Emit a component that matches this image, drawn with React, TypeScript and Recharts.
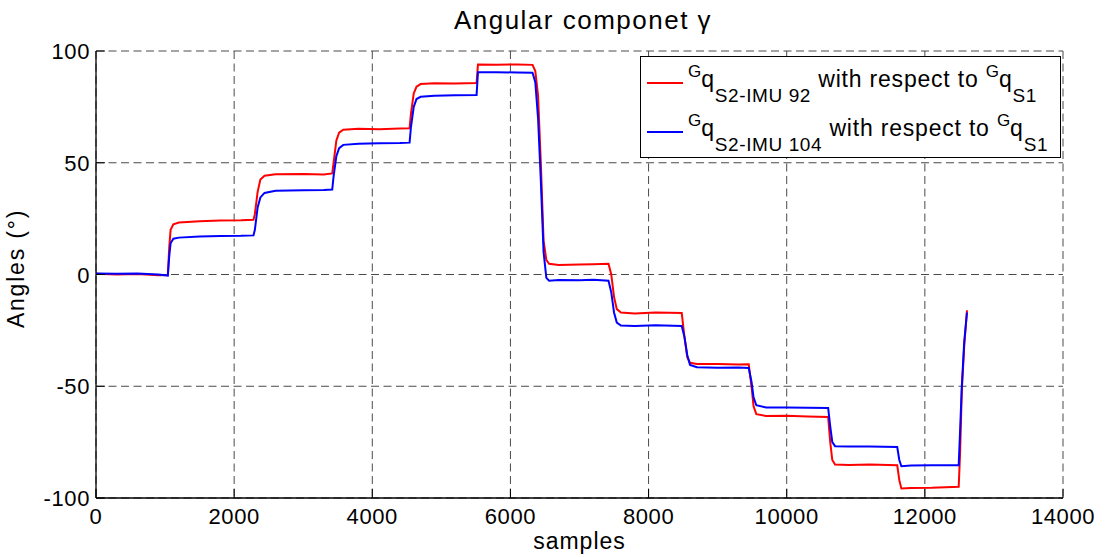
import { LineChart, Line, XAxis, YAxis, CartesianGrid, Legend } from 'recharts'

// sample index along the recording
const samples = [
  0, 300, 600, 900, 1040,
  1060, 1080, 1120, 1200, 1500, 1800, 2100, 2280,
  2300, 2340, 2380, 2440, 2600, 3000, 3300, 3420,
  3440, 3480, 3520, 3580, 3800, 4100, 4400, 4540,
  4560, 4600, 4640, 4700, 4900, 5200, 5510,
  5530, 5800, 6100, 6320,
  6360, 6400, 6440, 6480, 6520, 6560, 6700, 7000, 7200, 7420,
  7460, 7500, 7540, 7600, 7800, 8100, 8480,
  8520, 8560, 8600, 8700, 9000, 9300, 9450,
  9490, 9520, 9560, 9700, 10000, 10300, 10600,
  10630, 10660, 10700, 10900, 11200, 11600,
  11630, 11660, 11800, 12100, 12490,
  12510, 12535, 12570, 12610,
]

// gamma angle, IMU 92 (deg)
const imu92 = [
  0.3, 0, 0.2, -0.3, -0.2,
  12, 20, 22.5, 23.3, 23.8, 24.2, 24.3, 24.5,
  27, 37, 42.5, 44.2, 44.8, 45, 44.7, 45.2,
  50, 60, 63.5, 64.8, 65.2, 65, 65.3, 65.4,
  72, 81, 84, 85.2, 85.6, 85.5, 85.7,
  94, 93.9, 94, 93.8,
  91, 80, 50, 15, 6.5, 4.8, 4.3, 4.5, 4.6, 4.8,
  0, -10, -15.5, -17, -17.4, -17, -17.2,
  -28, -37, -39.5, -40, -40, -40.3, -40.2,
  -50, -59, -62.5, -63.3, -63.2, -63.5, -63.8,
  -75, -83, -85, -85.2, -85, -85.3,
  -92, -95.7, -95.5, -95.4, -95,
  -80, -52, -32, -16,
]

// gamma angle, IMU 104 (deg)
const imu104 = [
  0.5, 0.3, 0.4, 0, -0.5,
  8, 14, 16, 16.5, 17, 17.2, 17.3, 17.5,
  20, 30, 34.5, 36.5, 37.5, 37.7, 37.8, 38,
  44, 53, 56.5, 58, 58.5, 58.7, 58.8, 59,
  66, 75, 78.5, 79.5, 80, 80.2, 80.3,
  90.5, 90.5, 90.4, 90.3,
  86, 70, 42, 10, -1.5, -2.8, -2.5, -2.6, -2.3, -2.8,
  -8, -17, -21.5, -22.8, -23, -22.7, -23,
  -28, -36, -40.5, -41.5, -41.7, -41.6, -41.8,
  -48, -55, -58.5, -59.5, -59.5, -59.6, -59.7,
  -68, -75, -76.8, -77, -77, -77.2,
  -83, -85.8, -85.5, -85.4, -85.3,
  -70, -50, -30, -17,
]

const xTicks = [0, 2000, 4000, 6000, 8000, 10000, 12000, 14000]
const yTicks = [-100, -50, 0, 50, 100]

const data = samples.map((s, i) => ({ s, imu92: imu92[i], imu104: imu104[i] }))

const FONT = 'Arial, "Liberation Sans", Helvetica, sans-serif'
const TICK_LEN = 9

function BottomTick({ x, y, payload }: any) {
  return (
    <g>
      <line x1={x} x2={x} y1={y} y2={y - TICK_LEN} stroke="#000" />
      <text x={x} y={y + 26} textAnchor="middle" fontSize={22} letterSpacing={0.6} fontFamily={FONT} fill="#000">
        {payload.value}
      </text>
    </g>
  )
}

function LeftTick({ x, y, payload }: any) {
  return (
    <g>
      <line x1={x} x2={x + TICK_LEN} y1={y} y2={y} stroke="#000" />
      <text x={x - 6} y={y + 8} textAnchor="end" fontSize={22} letterSpacing={0.6} fontFamily={FONT} fill="#000">
        {payload.value}
      </text>
    </g>
  )
}

function TopTick({ x, y }: any) {
  return <line x1={x} x2={x} y1={y} y2={y + TICK_LEN} stroke="#000" />
}

function RightTick({ x, y }: any) {
  return <line x1={x} x2={x - TICK_LEN} y1={y} y2={y} stroke="#000" />
}

function Entry({ y, color, imu }: { y: number; color: string; imu: string }) {
  return (
    <g>
      <line x1={7} x2={43} y1={y - 4} y2={y - 4} stroke={color} strokeWidth={2} />
      <text x={48} y={y} fontFamily={FONT} fill="#000">
        <tspan fontSize={17} dy={-10}>G</tspan>
        <tspan fontSize={23} dy={10} letterSpacing={0.8}>q</tspan>
        <tspan fontSize={19} dy={15} letterSpacing={0.6}>{`S2-IMU ${imu}`}</tspan>
        <tspan fontSize={23} dy={-15} letterSpacing={0.8}>{' with respect to '}</tspan>
        <tspan fontSize={17} dy={-10}>G</tspan>
        <tspan fontSize={23} dy={10} letterSpacing={0.8}>q</tspan>
        <tspan fontSize={19} dy={15} letterSpacing={0.6}>S1</tspan>
      </text>
    </g>
  )
}

function LegendBox() {
  return (
    <svg width={421} height={102} style={{ display: 'block' }}>
      <rect x={0.5} y={0.5} width={420} height={101} fill="#fff" stroke="#000" />
      <Entry y={31} color="#ff0000" imu="92" />
      <Entry y={80} color="#0000ff" imu="104" />
    </svg>
  )
}

export default function App() {
  return (
    <div style={{ position: 'absolute', left: 0, top: 0, width: 1107, height: 557, background: '#fff' }}>
      <LineChart width={1107} height={557} data={data} margin={{ top: 51, right: 44, bottom: 0, left: 0 }}>
        <CartesianGrid stroke="#4a4a4a" strokeDasharray="8 4.5" />
        <XAxis
          dataKey="s"
          type="number"
          domain={[0, 14000]}
          ticks={xTicks}
          interval={0}
          height={59}
          tickSize={0}
          tickMargin={0}
          tickLine={false}
          tick={(p: any) => <BottomTick {...p} />}
          axisLine={{ stroke: '#000', strokeWidth: 1.3 }}
          label={{ value: 'samples', position: 'insideBottom', offset: 8, fontSize: 23, letterSpacing: 1, fontFamily: FONT, fill: '#000' }}
        />
        <XAxis
          xAxisId="top"
          orientation="top"
          type="number"
          dataKey="s"
          domain={[0, 14000]}
          ticks={xTicks}
          interval={0}
          height={0}
          tickSize={0}
          tickMargin={0}
          tickLine={false}
          tick={(p: any) => <TopTick {...p} />}
          axisLine={{ stroke: '#000', strokeWidth: 1.3 }}
        />
        <YAxis
          type="number"
          domain={[-100, 100]}
          ticks={yTicks}
          interval={0}
          width={96}
          tickSize={0}
          tickMargin={0}
          tickLine={false}
          tick={(p: any) => <LeftTick {...p} />}
          axisLine={{ stroke: '#000', strokeWidth: 1.3 }}
          label={{ value: 'Angles (°)', angle: -90, position: 'insideLeft', offset: 16, dy: -6, fontSize: 23, letterSpacing: 1.8, fontFamily: FONT, fill: '#000', style: { textAnchor: 'middle' } }}
        />
        <YAxis
          yAxisId="right"
          orientation="right"
          type="number"
          domain={[-100, 100]}
          ticks={yTicks}
          interval={0}
          width={0}
          tickSize={0}
          tickMargin={0}
          tickLine={false}
          tick={(p: any) => <RightTick {...p} />}
          axisLine={{ stroke: '#000', strokeWidth: 1.3 }}
        />
        <Line dataKey="imu92" stroke="#ff0000" strokeWidth={2} dot={false} isAnimationActive={false} type="linear" />
        <Line dataKey="imu104" stroke="#0000ff" strokeWidth={2} dot={false} isAnimationActive={false} type="linear" />
        <Legend
          layout="horizontal"
          verticalAlign="middle"
          align="center"
          wrapperStyle={{ top: 56, left: 640, width: 421, height: 102 }}
          content={() => <LegendBox />}
        />
        <text x={583} y={29} textAnchor="middle" fontSize={26} letterSpacing={1.5} fontFamily={FONT} fill="#000">
          Angular componet γ
        </text>
      </LineChart>
    </div>
  )
}
